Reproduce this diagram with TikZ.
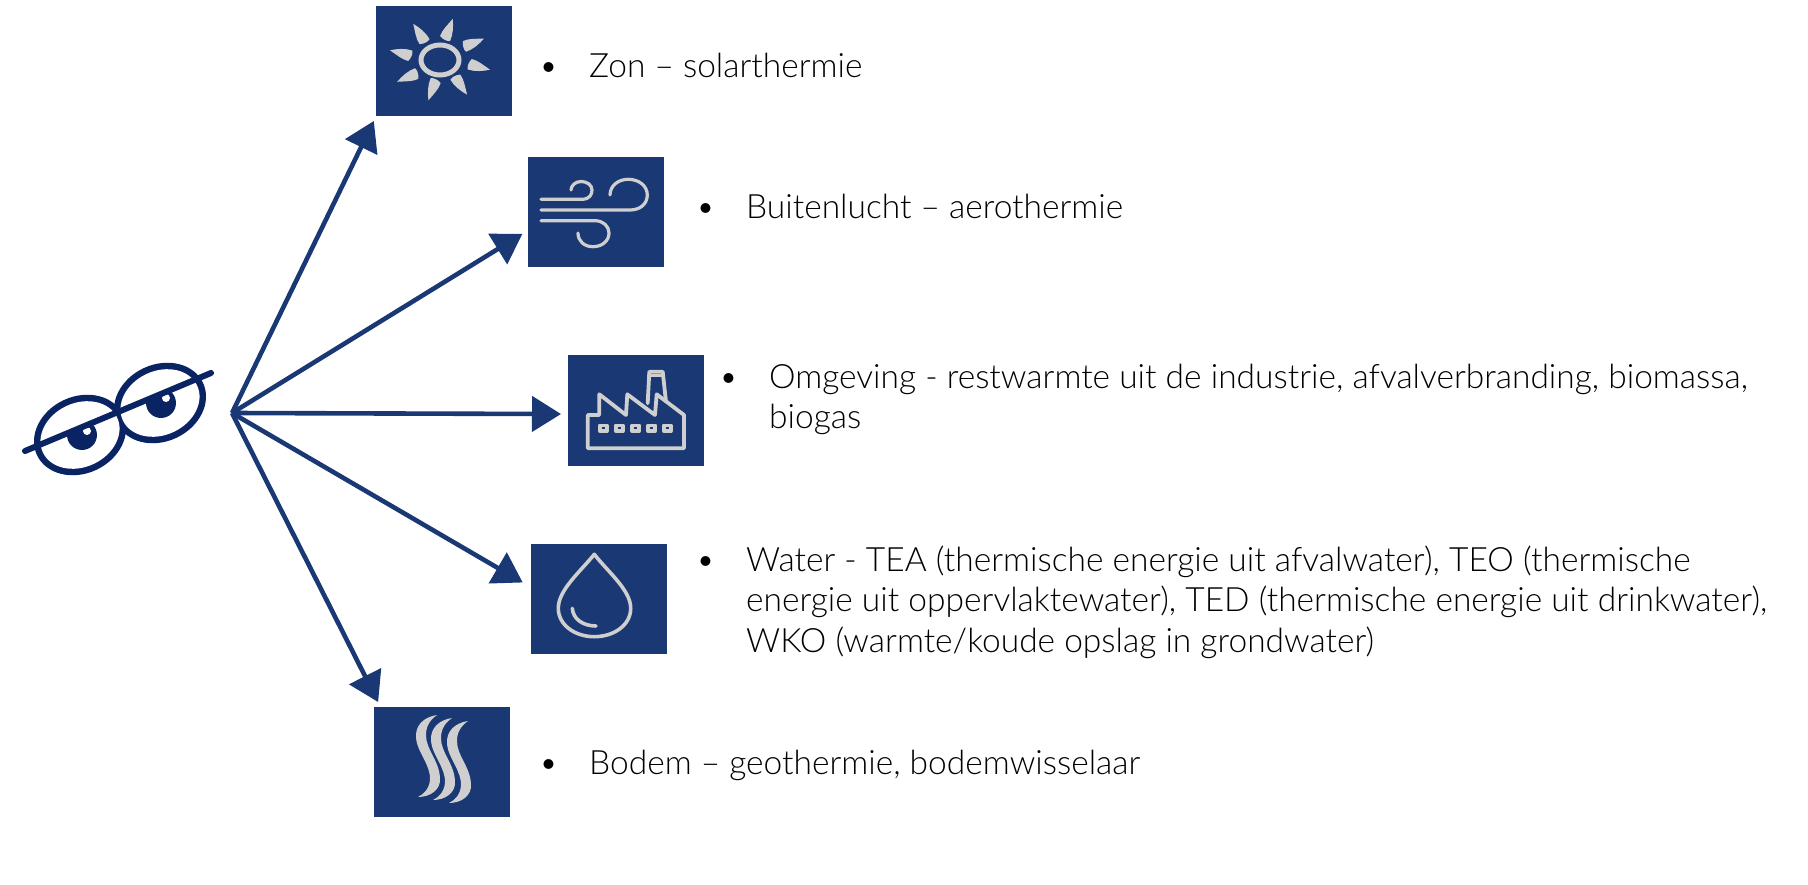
\documentclass[tikz,border=0pt]{standalone}
\usepackage{fontspec}
\setmainfont{Lato}[UprightFont=* Light]
\usetikzlibrary{arrows.meta,positioning}
\definecolor{boxblue}{HTML}{1A3873}
\definecolor{eyeblue}{HTML}{0A2463}
\definecolor{icongray}{HTML}{CFCFCF}
\newcommand{\bull}{\llap{\smash{•}\hspace{31pt}}}

\begin{document}
\begin{tikzpicture}[
        x=1pt, y=-1pt,
        iconbox/.style={rectangle, fill=boxblue, minimum width=136pt, minimum height=110pt, inner sep=0pt, outer sep=0pt},
        arrow/.style={-{Triangle[length=29pt,width=35pt]}, line width=4.6pt, boxblue},
        lbl/.style={anchor=base west, inner sep=0pt, align=left, font=\fontsize{33.5}{40.3}\selectfont},
        iconline/.style={icongray, line width=3.2pt, line cap=round, line join=round}
    ]
        \useasboundingbox (0,0) rectangle (1808,885);

        % Boxes
        \node[iconbox] (zon) at (444,61.5) {};
        \node[iconbox] (lucht) at (595.5,212.5) {};
        \node[iconbox] (omgeving) at (636,410.5) {};
        \node[iconbox] (water) at (598.5,599) {};
        \node[iconbox] (bodem) at (441.5,761.5) {};

        % Eyes
        \fill[eyeblue] (80,435) ellipse [x radius=47.5, y radius=38.5, rotate=25];
        \fill[eyeblue] (160,403) ellipse [x radius=47.5, y radius=38.5, rotate=25];
        \fill[white] (80,435) ellipse [x radius=41, y radius=32, rotate=25];
        \fill[white] (160,403) ellipse [x radius=41, y radius=32, rotate=25];
        \begin{scope}
            \clip (25,451) -- (211,373) -- (211,480) -- (25,480) -- cycle;
            \fill[eyeblue] (82,435) circle (15);
            \fill[eyeblue] (161,403) circle (15);
        \end{scope}
        \fill[white] (87,431) circle (4);
        \fill[white] (166,398) circle (4);
        \draw[eyeblue, line width=6pt, line cap=round] (25,451) -- (211,373);

        % Arrows
        \coordinate (bron) at (232,413);
        \draw[arrow, shorten >=5pt] (bron) -- (zon.south west);
        \draw[arrow, shorten >=6pt] (bron) -- (lucht.195.7);
        \draw[arrow, shorten >=7pt] (bron) -- (omgeving.183.4);
        \draw[arrow, shorten >=9pt] (bron) -- (water.170.3);
        \draw[arrow, shorten >=5pt] (bron) -- (bodem.138.4);

        % Sun
        \draw[icongray, line width=5pt] (440,60) ellipse [x radius=19, y radius=15];
        \foreach \a/\r in {72.8/43, 26/49, -11/51, -52/44, -106/42, -153/48, 169/51, 126.5/45}
            \fill[icongray, shift={(440,60)}, rotate=\a] (\r,0) .. controls (\r-7,-3) and (\r-14,-7) .. (\r-20,-7) .. controls (\r-23,-3) and (\r-23,2) .. (\r-22,4) .. controls (\r-15,5) and (\r-7,3) .. (\r,0) -- cycle;

        % Wind
        \draw[iconline] (541,199.3) -- (582,199.3) .. controls (590,199.3) and (592,194) .. (592,190) .. controls (592,185) and (587,181.5) .. (581,181.5) .. controls (575,181.5) and (571,186) .. (571,190);
        \draw[iconline] (541,210) -- (630,210) .. controls (640,210) and (647.3,204) .. (647.3,195) .. controls (647.3,186) and (639,179.3) .. (628.3,179.3) .. controls (618,179.3) and (610,186) .. (610,195);
        \draw[iconline] (541,220.7) -- (595,220.7) .. controls (603,220.7) and (609,226) .. (609,233) .. controls (609,241) and (602,246.7) .. (593,246.7) .. controls (584,246.7) and (578,241) .. (578,233);

        % Factory
        \draw[iconline, line width=3.8pt] (587.7,448.3) -- (587.7,415) -- (599.3,415) -- (599.3,394.3) -- (626,415) -- (627.3,394.3) -- (655,415) -- (656.7,394.3) -- (684,415) -- (684,448.3) -- cycle;
        \draw[iconline, line width=3.8pt] (647.7,403.3) -- (649.3,371.7) -- (662.7,371.7) -- (666,401.7);
        \draw[iconline] (650,375.5) -- (662,375.5);
        \foreach \x in {603.3,619.3,635.7,651.7,667.3}
            \draw[iconline, line width=3.8pt] (\x-3.5,425.5) rectangle (\x+3.5,431);

        % Drop
        \draw[iconline, line width=3.6pt] (594.3,554.3) .. controls (580,572) and (558.3,590) .. (558.3,608.3) .. controls (558.3,625) and (575,636.7) .. (594.3,636.7) .. controls (614,636.7) and (630.7,625) .. (630.7,608.3) .. controls (630.7,590) and (608,572) .. (594.3,554.3) -- cycle;
        \draw[iconline, line width=3.6pt] (572.3,608.3) .. controls (573,619) and (583,626) .. (596,626);

        % Soil
        \foreach \sx/\sy/\ey in {0/0/0, 15/3/3, 31/6/6}
            \fill[icongray] (437+\sx,715+\sy) .. controls (424+\sx,717+\sy) and (415+\sx,725+\sy) .. (416+\sx,738+\sy) .. controls (417+\sx,752+\sy) and (431+\sx,765+\sy) .. (430+\sx,780+\sy) .. controls (429+\sx,789+\ey) and (424+\sx,794+\ey) .. (418+\sx,797+\ey) .. controls (430+\sx,797+\ey) and (441+\sx,790+\ey) .. (440+\sx,778+\sy) .. controls (439+\sx,760+\sy) and (426+\sx,750+\sy) .. (426+\sx,735+\sy) .. controls (426+\sx,726+\sy) and (430+\sx,720+\sy) .. (437+\sx,715+\sy) -- cycle;

        % Texts
        \node[lbl] (zontxt) at (589,77.5) {\bull Zon -- solarthermie};
        \node[lbl] (luchttxt) at (746,218.5) {\bull Buitenlucht -- aerothermie};
        \node[lbl] (omgevingtxt) at (769,428.5) {\bull Omgeving - restwarmte uit de industrie, afvalverbranding, biomassa,\\biogas};
        \node[lbl] (watertxt) at (746,652) {\bull Water - TEA (thermische energie uit afvalwater), TEO (thermische\\energie uit oppervlaktewater), TED (thermische energie uit drinkwater),\\WKO (warmte/koude opslag in grondwater)};
        \node[lbl] (bodemtxt) at (589,774) {\bull Bodem -- geothermie, bodemwisselaar};

    \end{tikzpicture}
\end{document}
